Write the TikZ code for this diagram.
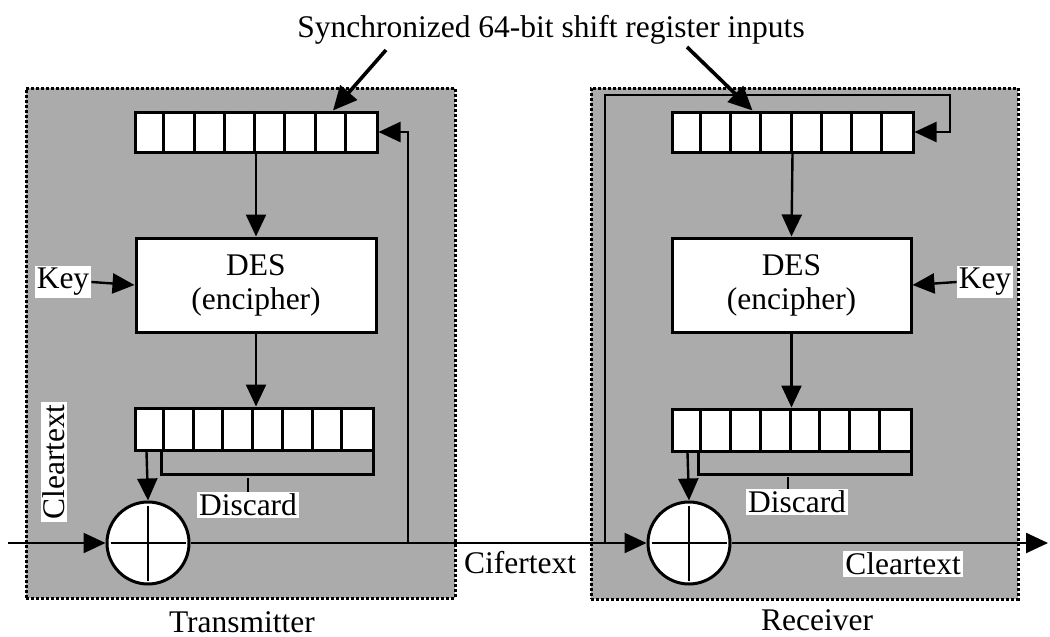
\documentclass[tikz,border=0pt]{standalone}
\usepackage{fontspec}
\setmainfont{Liberation Serif}
\usetikzlibrary{arrows.meta}
\begin{document}
\begin{tikzpicture}[x=1pt,y=-1pt,
  panel/.style={draw=black, line width=3pt, dash pattern=on 3pt off 2pt, fill=black!33},
  reg/.style={draw, line width=3pt, fill=white, minimum width=242pt, minimum height=40pt, inner sep=0pt},
  desbox/.style={draw, line width=3pt, fill=white, minimum width=240pt, minimum height=94pt, align=center, inner sep=0pt, font=\fontsize{31.5}{34}\selectfont},
  xorc/.style={circle, draw, line width=3pt, fill=white, minimum size=82pt, inner sep=0pt},
  wire/.style={line width=2.4pt},
  arr/.style={wire, -{Triangle[length=22pt,width=20pt]}},
  bigarr/.style={line width=3.6pt, -{Triangle[length=24pt,width=22pt]}},
  lab/.style={fill=white, inner sep=2pt, font=\fontsize{31.5}{34}\selectfont},
  plain/.style={inner sep=0pt, font=\fontsize{31.5}{34}\selectfont},
]
\useasboundingbox (0,0) rectangle (1050,637);

% panels
\node[panel, minimum width=429pt, minimum height=510pt, inner sep=0pt] (tpanel) at (240.5,343) {};
\node[panel, minimum width=427pt, minimum height=511pt, inner sep=0pt] (rpanel) at (804.5,343.5) {};

% title
\node[plain] (title) at (551,30) {Synchronized 64-bit shift register inputs};

% ---------- transmitter ----------
\node[reg] (treg1) at (256,132) {};
\node[desbox] (tdes) at (256,285) {DES\\(encipher)};
\node[reg, minimum height=42pt, minimum width=238pt] (treg2) at (254,429) {};
\node[xorc] (txor) at (148,543) {};
\foreach \i in {1,...,7} {
  \draw[line width=3pt] ([xshift=\i*30.25pt]treg1.north west) -- ([xshift=\i*30.25pt]treg1.south west);
  \draw[line width=3pt] ([xshift=\i*29.75pt]treg2.north west) -- ([xshift=\i*29.75pt]treg2.south west);
}
\draw[wire, shorten <=5pt, shorten >=5pt] (txor.north) -- (txor.south);
\draw[wire, shorten <=5pt, shorten >=5pt] (txor.west) -- (txor.east);

\node[lab] (tkey) at (63,282) {Key};
\node[lab, rotate=90] (tclr) at (54,462) {Cleartext};
\node[lab] (tdisc) at (248,505) {Discard};
\node[plain] (ttx) at (242,622) {Transmitter};

\draw[arr] (treg1.south) -- (tdes.north);
\draw[arr] (tdes.south) -- ([xshift=2pt]treg2.north);
\draw[arr] (tkey.east) -- (tdes.west);
\draw[arr] ([xshift=13pt]treg2.south west) -- (txor.north);
\draw[wire] ([xshift=28pt]treg2.south west) -- ++(0,23) -| ([xshift=-1pt]treg2.south east);
\draw[wire] (tdisc.north) -- ++(0,-14);

\coordinate (tin) at (8,543);
\draw[arr] (tin) -- (txor.west);
\coordinate (tfb) at (408,543);
\draw[arr] (tfb) |- (treg1.east);

% ---------- receiver ----------
\node[reg, minimum width=241pt] (rreg1) at (792.5,132) {};
\node[desbox, minimum width=239pt] (rdes) at (791.5,285) {DES\\(encipher)};
\node[reg, minimum height=42pt, minimum width=239pt] (rreg2) at (791.5,430) {};
\node[xorc] (rxor) at (689,543) {};
\foreach \i in {1,...,7} {
  \draw[line width=3pt] ([xshift=\i*30.125pt]rreg1.north west) -- ([xshift=\i*30.125pt]rreg1.south west);
  \draw[line width=3pt] ([xshift=\i*29.875pt]rreg2.north west) -- ([xshift=\i*29.875pt]rreg2.south west);
}
\draw[wire, shorten <=5pt, shorten >=5pt] (rxor.north) -- (rxor.south);
\draw[wire, shorten <=5pt, shorten >=5pt] (rxor.west) -- (rxor.east);

\node[lab] (rkey) at (985,282) {Key};
\node[lab] (rdisc) at (797,502) {Discard};
\node[lab] (rclr) at (903,564) {Cleartext};
\node[plain] (rrx) at (817,620) {Receiver};
\node[lab] (cif) at (520,563) {Cifertext};

\draw[arr] (rreg1.south) -- (rdes.north);
\draw[arr] (rdes.south) -- (rreg2.north);
\draw[arr] (rkey.west) -- (rdes.east);
\draw[arr] ([xshift=17pt]rreg2.south west) -- (rxor.north);
\draw[wire] ([xshift=28pt]rreg2.south west) -- ++(0,22) -| ([xshift=-1pt]rreg2.south east);
\draw[wire] ([xshift=-9pt]rdisc.north) -- ++(0,-12);

\draw[arr] (txor.east) -- (rxor.west);
\coordinate (rfb) at (605,543);
\coordinate (rcorner) at (950,95);
\draw[arr] (rfb) |- (rcorner) |- (rreg1.east);
\coordinate (rout) at (1048,543);
\draw[arr] (rxor.east) -- (rout);

% title arrows
\coordinate (ta) at (386,50);
\coordinate (tb) at (687,47);
\draw[bigarr] (ta) -- ([xshift=77pt]treg1.north);
\draw[bigarr] (tb) -- ([xshift=-40pt]rreg1.north);
\end{tikzpicture}
\end{document}
